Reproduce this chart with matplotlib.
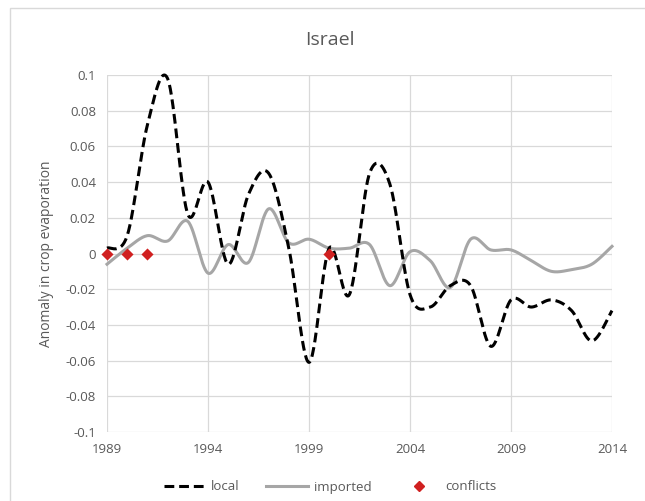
import numpy as np
import matplotlib
matplotlib.use("Agg")
import matplotlib.pyplot as plt
from matplotlib.lines import Line2D
from matplotlib.patches import Rectangle

years = list(range(1989, 2015))
local = [0.003, 0.010, 0.072, 0.098, 0.022, 0.040, -0.006, 0.033, 0.045, 0.003,
         -0.061, 0.003, -0.023, 0.045, 0.039, -0.023, -0.030, -0.018, -0.018, -0.052,
         -0.026, -0.030, -0.026, -0.032, -0.049, -0.032]
imported = [-0.006, 0.003, 0.010, 0.007, 0.018, -0.011, 0.005, -0.005, 0.025, 0.006,
            0.008, 0.003, 0.003, 0.005, -0.018, 0.001, -0.004, -0.019, 0.008, 0.002,
            0.002, -0.004, -0.010, -0.009, -0.006, 0.004]
conflict_years = [1989, 1990, 1991, 2000]
conflict_vals = [0, 0, 0, 0]
xticks = [1989, 1994, 1999, 2004, 2009, 2014]
yticks = [-0.1, -0.08, -0.06, -0.04, -0.02, 0, 0.02, 0.04, 0.06, 0.08, 0.1]
ytick_labels = ["-0.1", "-0.08", "-0.06", "-0.04", "-0.02", "0", "0.02", "0.04", "0.06", "0.08", "0.1"]


def smooth(xs, ys, n=30):
    P = np.column_stack([xs, ys]).astype(float)
    m = len(P)
    out = []
    for i in range(m - 1):
        p0 = P[i - 1] if i > 0 else P[i]
        p1 = P[i]
        p2 = P[i + 1]
        p3 = P[i + 2] if i + 2 < m else P[i + 1]
        c1 = p1 + (p2 - p0) / 6
        c2 = p2 - (p3 - p1) / 6
        t = np.linspace(0, 1, n, endpoint=(i == m - 2))[:, None]
        b = (1 - t) ** 3 * p1 + 3 * (1 - t) ** 2 * t * c1 + 3 * (1 - t) * t ** 2 * c2 + t ** 3 * p2
        out.append(b)
    out = np.vstack(out)
    return out[:, 0], out[:, 1]


plt.rcParams['font.family'] = ['Open Sans', 'DejaVu Sans']
txt = '#595959'

fig = plt.figure(figsize=(6.45, 5.01), dpi=100)
fig.patches.append(Rectangle((10 / 645, -0.01), 1.0, 1 - 8 / 501 + 0.01, transform=fig.transFigure,
                             fill=False, edgecolor='#d9d9d9', linewidth=1.0))
ax = fig.add_axes([107 / 645, 1 - 432 / 501, (612 - 107) / 645, (432 - 75) / 501])

xs, ys = smooth(years, imported)
ax.plot(xs, ys, color='#a6a6a6', lw=2.2, zorder=3, clip_on=False)
xs, ys = smooth(years, local)
ax.plot(xs, ys, color='black', lw=2.2, dashes=(3.2, 1.6), zorder=4, clip_on=False)
ax.scatter(conflict_years, conflict_vals, marker='D', s=38, color='#d02020', zorder=5, linewidths=0,
           clip_on=False)

ax.set_xlim(1989, 2014)
ax.set_ylim(-0.1, 0.1)
ax.set_xticks(xticks)
ax.set_xticklabels([str(x) for x in xticks])
ax.set_yticks(yticks)
ax.set_yticklabels(ytick_labels)
ax.grid(True, color='#d9d9d9', lw=0.9)
ax.set_axisbelow(True)
for s in ax.spines.values():
    s.set_visible(False)
ax.tick_params(length=0, labelsize=9.5, colors=txt, pad=8)
ax.set_ylabel("Anomaly in crop evaporation", fontsize=10, color=txt, labelpad=8)
fig.text(330 / 645, 1 - 40 / 501, "Israel", ha='center', va='center', fontsize=14, color=txt)

handles = [Line2D([], [], color='black', lw=2.2, dashes=(3.2, 1.6)),
           Line2D([], [], color='#a6a6a6', lw=2.2),
           Line2D([], [], color='#d02020', marker='D', ls='none', markersize=5)]
fig.legend(handles, ['local', 'imported', 'conflicts'], loc='center', bbox_to_anchor=(330 / 645, 1 - 487 / 501),
           ncol=3, frameon=False, fontsize=9.5, labelcolor=txt, handlelength=3.2, columnspacing=2.0,
           handletextpad=0.4)

fig.savefig("out.png", dpi=100)
